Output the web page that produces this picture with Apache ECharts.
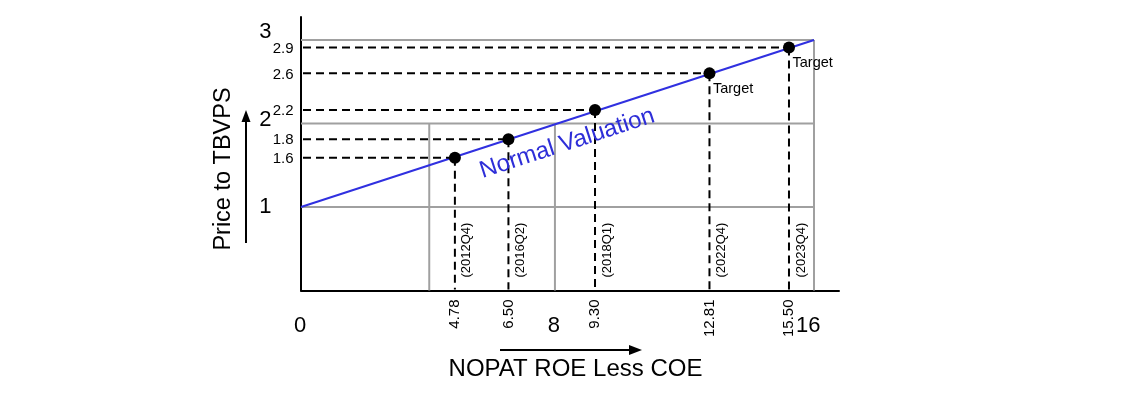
<!DOCTYPE html>
<html>
<head>
<meta charset="utf-8">
<script src="https://cdn.jsdelivr.net/npm/echarts@6/dist/echarts.min.js"></script>
<style>
html,body{margin:0;padding:0;background:#fff;}
#chart{width:1128px;height:393px;}
</style>
</head>
<body>
<div id="chart"></div>
<script>
// ---- data ----
const pointX = [4.8, 6.47, 9.17, 12.74, 15.22];
const pointY = [1.59, 1.81, 2.16, 2.6, 2.91];
const xValueLabels = ['4.78', '6.50', '9.30', '12.81', '15.50'];
const yValueLabels = ['1.6', '1.8', '2.2', '2.6', '2.9'];
const periodLabels = ['(2012Q4)', '(2016Q2)', '(2018Q1)', '(2022Q4)', '(2023Q4)'];
const targetLabels = ['', '', '', 'Target', 'Target'];
const normalLineX = [0, 16];
const normalLineY = [1, 3];
const bigXTickPos = [0, 7.92, 15.85];
const bigXTickText = ['0', '8', '16'];
const bigYTickPos = [1, 2.04, 3.1];
const bigYTickText = ['1', '2', '3'];
// gray reference lines: [x1, y1, x2, y2]
const grayX1 = [0, 0, 0, 4, 7.92, 16];
const grayY1 = [1, 2, 3, 0, 0, 0];
const grayX2 = [16, 16, 16, 4, 7.92, 16];
const grayY2 = [1, 2, 3, 2, 2, 3];
const curveName = 'Normal Valuation';
const xTitle = 'NOPAT ROE Less COE';
const yTitle = 'Price to TBVPS';

const FONT = "'Liberation Sans', Arial, sans-serif";

const chart = echarts.init(document.getElementById('chart'), null, {renderer: 'canvas'});

const grayData = grayX1.map((v, i) => [v, grayY1[i], grayX2[i], grayY2[i]]);
const pointData = pointX.map((v, i) => [v, pointY[i]]);
const lineData = normalLineX.map((v, i) => [v, normalLineY[i]]);

const option = {
  animation: false,
  grid: {left: 301, top: 17, width: 538, height: 273.5, containLabel: false},
  xAxis: {
    type: 'value', min: 0, max: 16.78,
    axisLine: {show: true, onZero: false, lineStyle: {color: '#000', width: 2}},
    axisTick: {show: false}, axisLabel: {show: false}, splitLine: {show: false}
  },
  yAxis: {
    type: 'value', min: 0, max: 3.275,
    axisLine: {show: true, onZero: false, lineStyle: {color: '#000', width: 2}},
    axisTick: {show: false}, axisLabel: {show: false}, splitLine: {show: false}
  },
  series: [
    {
      type: 'custom', z: 1, silent: true,
      data: grayData,
      encode: {x: [0, 2], y: [1, 3]},
      renderItem: function (params, api) {
        const a = api.coord([api.value(0), api.value(1)]);
        const b = api.coord([api.value(2), api.value(3)]);
        return {type: 'line', shape: {x1: a[0], y1: a[1], x2: b[0], y2: b[1]},
          style: {stroke: '#a0a0a0', lineWidth: 2}};
      }
    },
    {
      type: 'line', z: 2, silent: true, data: lineData, showSymbol: false,
      lineStyle: {color: '#3030e0', width: 2}
    },
    {
      type: 'custom', z: 3, silent: true,
      data: pointData,
      renderItem: function (params, api) {
        const x = api.value(0), y = api.value(1);
        const p = api.coord([x, y]);
        const l = api.coord([0, y]);
        const d = api.coord([x, 0]);
        const st = {stroke: '#000', lineWidth: 2, lineDash: [8, 5]};
        return {type: 'group', children: [
          {type: 'line', shape: {x1: l[0] + 2, y1: p[1], x2: p[0], y2: p[1]}, style: st},
          {type: 'line', shape: {x1: p[0], y1: p[1], x2: p[0], y2: d[1] - 1}, style: st}
        ]};
      }
    },
    {
      type: 'scatter', z: 6, silent: true, data: pointData, symbolSize: 12,
      itemStyle: {color: '#000', opacity: 1}
    },
    {
      type: 'custom', z: 5, silent: true,
      data: pointData,
      renderItem: function (params, api) {
        const i = params.dataIndex;
        const x = api.value(0), y = api.value(1);
        const p = api.coord([x, y]);
        const o = api.coord([0, 0]);
        const ch = [];
        ch.push({type: 'text', x: o[0] - 7.5, y: p[1] + 1,
          style: {text: yValueLabels[i], align: 'right', verticalAlign: 'middle',
            fontSize: 15, fontFamily: FONT, fill: '#000'}});
        ch.push({type: 'text', x: p[0], y: o[1] + 9, rotation: Math.PI / 2,
          style: {text: xValueLabels[i], align: 'right', verticalAlign: 'middle',
            fontSize: 15, fontFamily: FONT, fill: '#000'}});
        ch.push({type: 'text', x: p[0] + 12, y: o[1] - 13, rotation: Math.PI / 2,
          style: {text: periodLabels[i], align: 'left', verticalAlign: 'middle',
            fontSize: 13, fontFamily: FONT, fill: '#000'}});
        if (targetLabels[i]) {
          ch.push({type: 'text', x: p[0] + 3.5, y: p[1] + 8.5,
            style: {text: targetLabels[i], align: 'left', verticalAlign: 'top',
              fontSize: 14.5, fontFamily: FONT, fill: '#000'}});
        }
        return {type: 'group', children: ch};
      }
    },
    {
      type: 'custom', z: 5, silent: true,
      data: bigXTickPos.map((v, i) => [v, 0, i]),
      renderItem: function (params, api) {
        const p = api.coord([api.value(0), 0]);
        return {type: 'text', x: p[0] - 1, y: p[1] + 35.5,
          style: {text: bigXTickText[params.dataIndex], align: 'center', verticalAlign: 'middle',
            fontSize: 22, fontFamily: FONT, fill: '#000'}};
      }
    },
    {
      type: 'custom', z: 5, silent: true,
      data: bigYTickPos.map((v, i) => [0, v, i]),
      renderItem: function (params, api) {
        const p = api.coord([0, api.value(1)]);
        return {type: 'text', x: p[0] - 29.5, y: p[1],
          style: {text: bigYTickText[params.dataIndex], align: 'right', verticalAlign: 'middle',
            fontSize: 22, fontFamily: FONT, fill: '#000'}};
      }
    },
    {
      type: 'custom', z: 5, silent: true,
      data: [[8.3, 1.76]],
      renderItem: function (params, api) {
        const p = api.coord([api.value(0), api.value(1)]);
        const a = api.coord(lineData[0]);
        const b = api.coord(lineData[1]);
        const ang = Math.atan2(a[1] - b[1], b[0] - a[0]);
        return {type: 'text', x: p[0], y: p[1], rotation: ang,
          style: {text: curveName, align: 'center', verticalAlign: 'middle',
            fontSize: 24, fontFamily: FONT, fill: '#2e2ed8'}};
      }
    }
  ],
  graphic: [
    {type: 'text', x: 575.5, y: 369, silent: true,
      style: {text: xTitle, align: 'center', verticalAlign: 'middle', fontSize: 24, fontFamily: FONT, fill: '#000'}},
    {type: 'text', x: 224, y: 169, rotation: Math.PI / 2, silent: true,
      style: {text: yTitle, align: 'center', verticalAlign: 'middle', fontSize: 23.5, fontFamily: FONT, fill: '#000'}},
    {type: 'line', silent: true, shape: {x1: 246, y1: 243, x2: 246, y2: 118}, style: {stroke: '#000', lineWidth: 2}},
    {type: 'polygon', silent: true, shape: {points: [[246, 110], [241.5, 122], [250.5, 122]]}, style: {fill: '#000'}},
    {type: 'line', silent: true, shape: {x1: 500, y1: 350, x2: 632, y2: 350}, style: {stroke: '#000', lineWidth: 2}},
    {type: 'polygon', silent: true, shape: {points: [[642, 350], [629, 345], [629, 355]]}, style: {fill: '#000'}}
  ]
};
chart.setOption(option);
</script>
</body>
</html>
